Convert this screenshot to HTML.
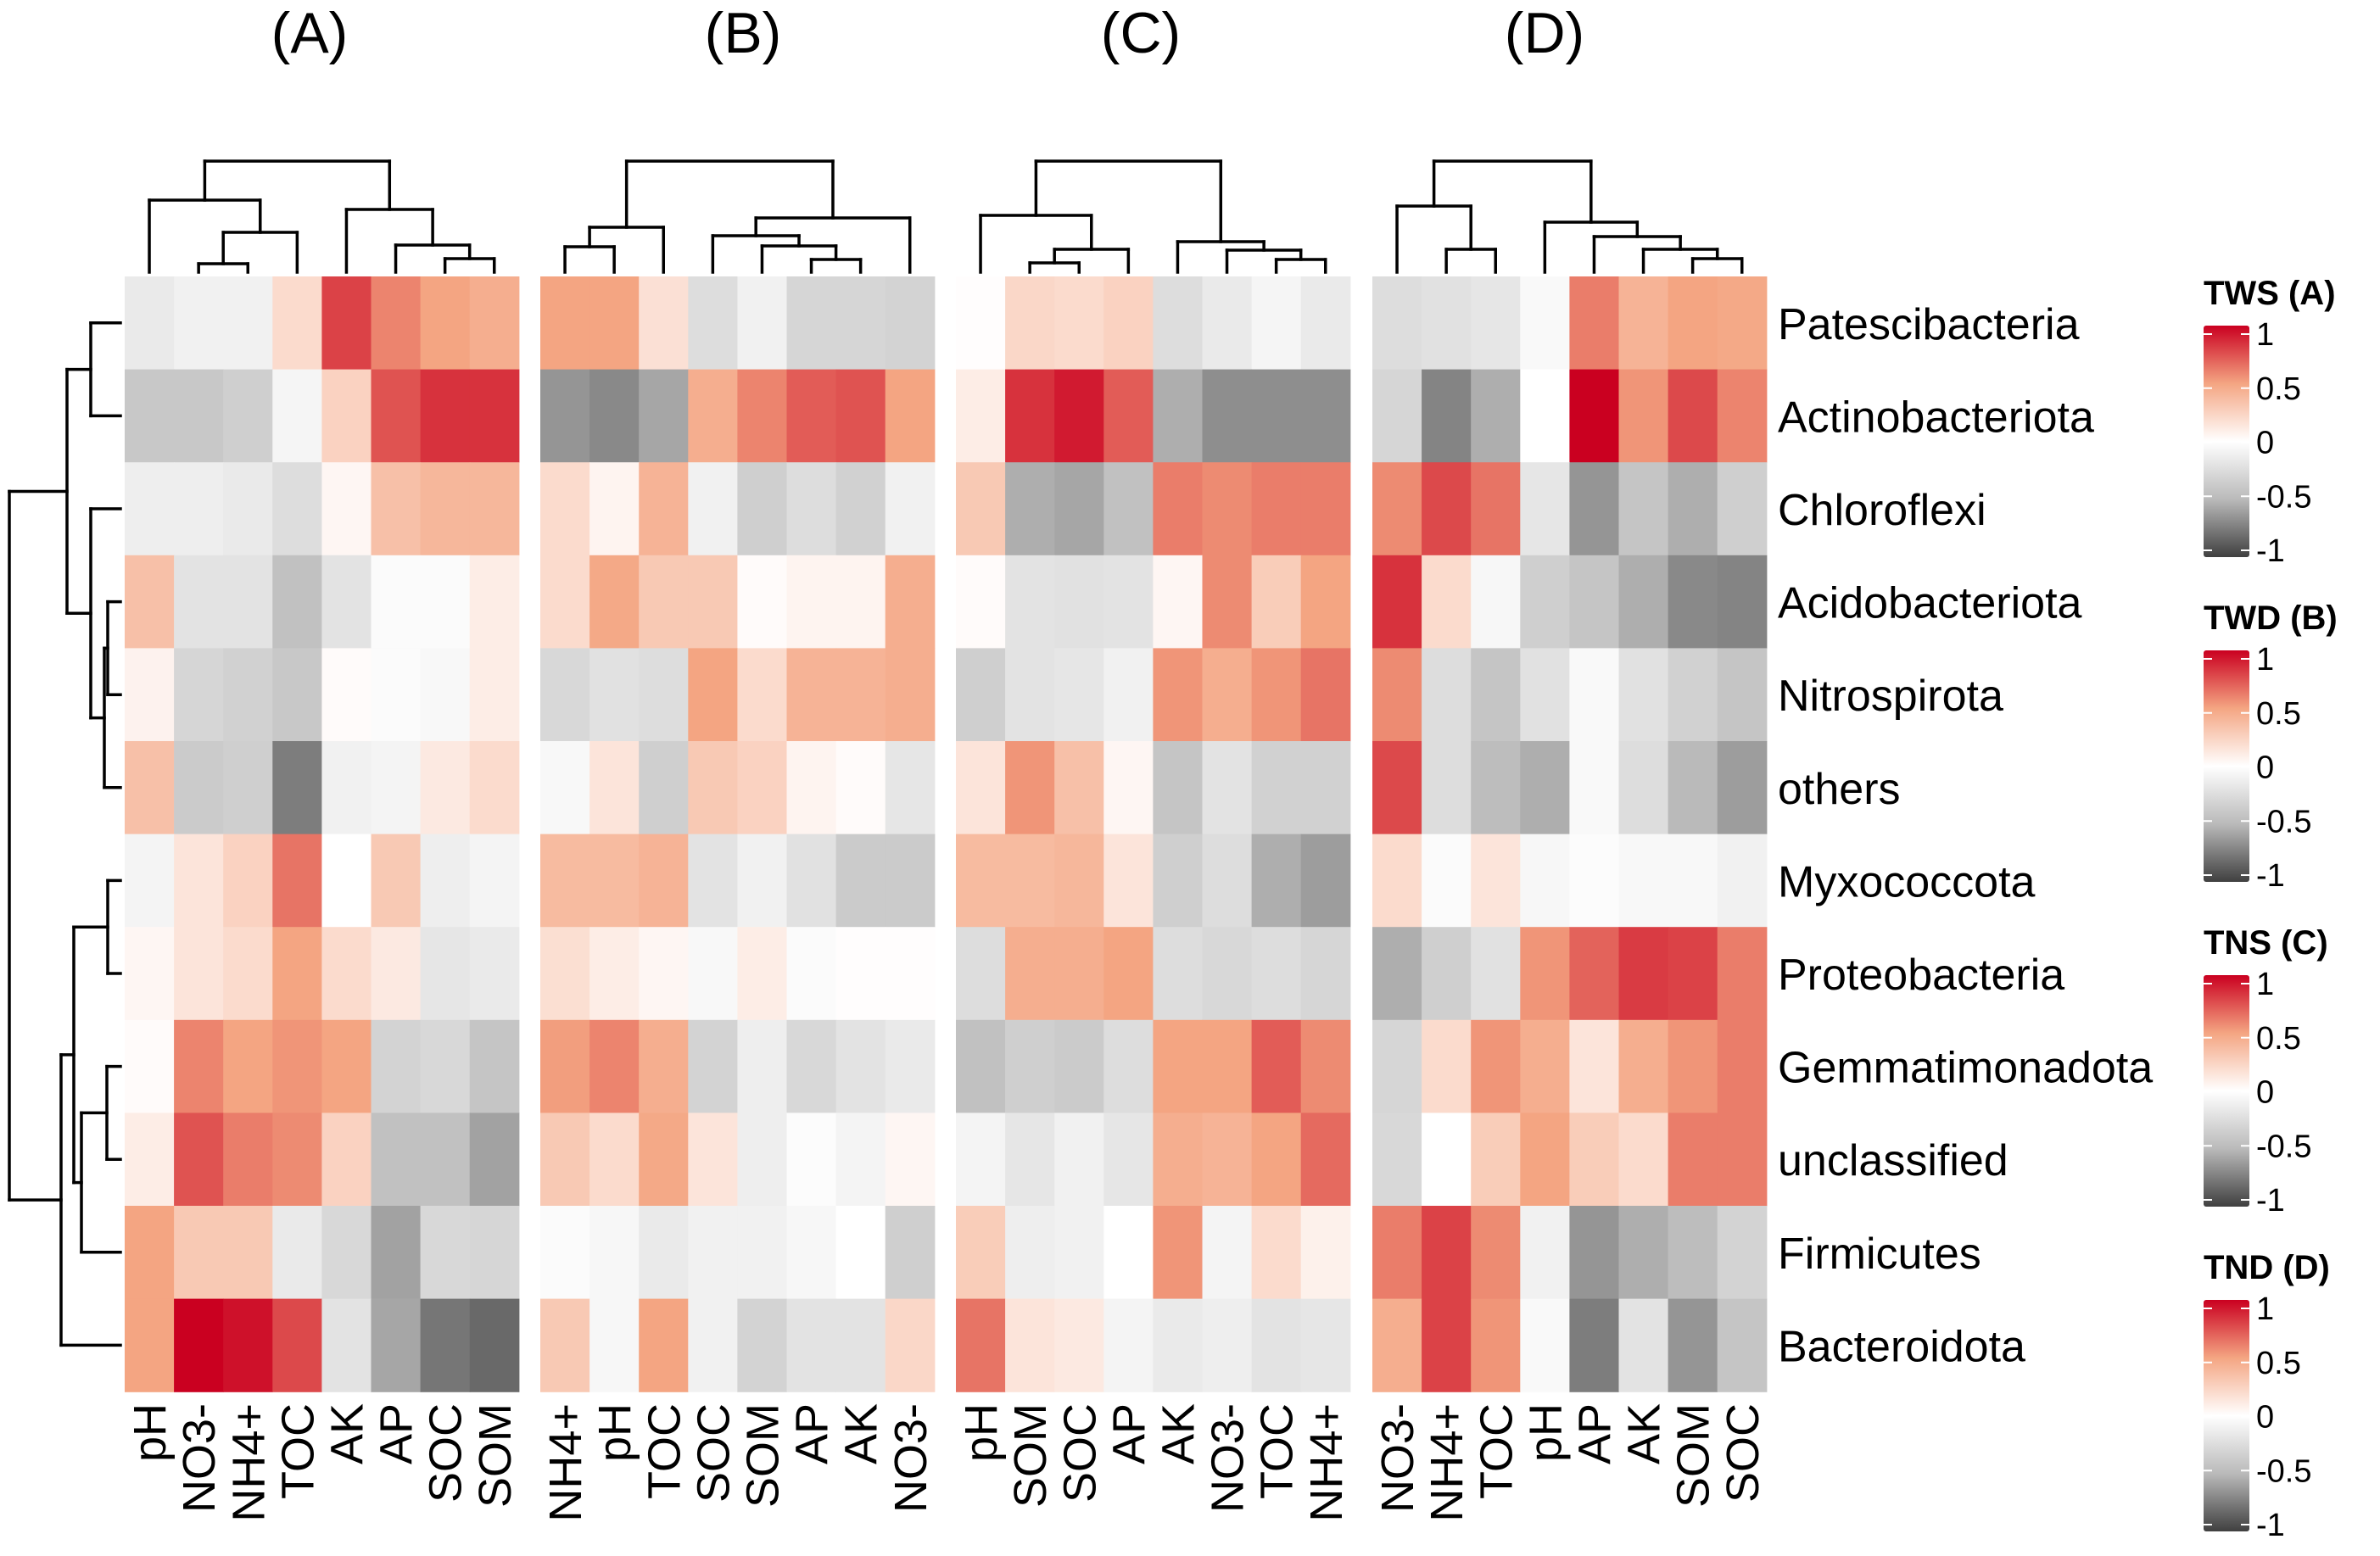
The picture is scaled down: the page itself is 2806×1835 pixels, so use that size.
<!DOCTYPE html>
<html><head><meta charset="utf-8"><style>
html,body{margin:0;padding:0;background:#fff;}
svg{display:block;font-family:"Liberation Sans",sans-serif;}
</style></head><body>
<svg id="chart" width="2806" height="1835" viewBox="0 0 2806 1835" xmlns="http://www.w3.org/2000/svg">
<defs>
<linearGradient id="grad" x1="0" y1="0" x2="0" y2="1">
<stop offset="0" stop-color="#ca0020"/><stop offset="0.25" stop-color="#f4a582"/><stop offset="0.5" stop-color="#ffffff"/><stop offset="0.75" stop-color="#bababa"/><stop offset="1" stop-color="#404040"/>
</linearGradient>
</defs>
</svg>
<script>
const rows = ["Patescibacteria","Actinobacteriota","Chloroflexi","Acidobacteriota","Nitrospirota","others","Myxococcota","Proteobacteria","Gemmatimonadota","unclassified","Firmicutes","Bacteroidota"];
const panelTitles = ["(A)","(B)","(C)","(D)"];
const legendTitles = ["TWS (A)","TWD (B)","TNS (C)","TND (D)"];
const legendTicks = [1,0.5,0,-0.5,-1];
const colsA = ["pH","NO3-","NH4+","TOC","AK","AP","SOC","SOM"];
const colsB = ["NH4+","pH","TOC","SOC","SOM","AP","AK","NO3-"];
const colsC = ["pH","SOM","SOC","AP","AK","NO3-","TOC","NH4+"];
const colsD = ["NO3-","NH4+","TOC","pH","AP","AK","SOM","SOC"];
const valsA = [
[-0.15,-0.1,-0.1,0.2,0.8,0.6,0.5,0.45],
[-0.4,-0.4,-0.35,-0.07,0.25,0.75,0.85,0.85],
[-0.12,-0.12,-0.15,-0.25,0.05,0.35,0.4,0.4],
[0.35,-0.2,-0.2,-0.45,-0.2,-0.03,-0.03,0.1],
[0.07,-0.3,-0.33,-0.4,0.02,-0.03,-0.05,0.1],
[0.35,-0.38,-0.35,-0.75,-0.1,-0.08,0.12,0.2],
[-0.08,0.15,0.25,0.65,0.0,0.3,-0.12,-0.08],
[0.05,0.15,0.2,0.5,0.2,0.12,-0.18,-0.15],
[0.02,0.6,0.5,0.55,0.5,-0.32,-0.28,-0.42],
[0.1,0.75,0.62,0.58,0.25,-0.45,-0.45,-0.6],
[0.5,0.3,0.3,-0.15,-0.28,-0.6,-0.28,-0.3],
[0.5,1.0,0.95,0.78,-0.2,-0.58,-0.78,-0.83]];
const valsB = [
[0.5,0.5,0.17,-0.25,-0.1,-0.3,-0.3,-0.32],
[-0.65,-0.7,-0.58,0.45,0.6,0.72,0.75,0.5],
[0.2,0.06,0.42,-0.1,-0.35,-0.25,-0.33,-0.1],
[0.2,0.48,0.3,0.3,0.02,0.06,0.06,0.45],
[-0.28,-0.22,-0.25,0.5,0.2,0.42,0.42,0.45],
[-0.05,0.15,-0.35,0.3,0.25,0.06,0.02,-0.18],
[0.38,0.38,0.42,-0.2,-0.1,-0.22,-0.38,-0.38],
[0.18,0.1,0.05,-0.05,0.1,-0.03,0.01,0.01],
[0.52,0.6,0.45,-0.32,-0.12,-0.28,-0.2,-0.15],
[0.3,0.2,0.48,0.15,-0.12,-0.02,-0.08,0.05],
[-0.03,-0.06,-0.15,-0.1,-0.1,-0.06,0.0,-0.35],
[0.3,-0.06,0.5,-0.1,-0.32,-0.2,-0.2,0.22]];
const valsC = [
[0.01,0.22,0.2,0.25,-0.25,-0.15,-0.07,-0.15],
[0.1,0.85,0.92,0.72,-0.55,-0.68,-0.68,-0.68],
[0.3,-0.55,-0.58,-0.45,0.62,0.58,0.62,0.62],
[0.02,-0.2,-0.22,-0.2,0.05,0.58,0.28,0.5],
[-0.35,-0.2,-0.18,-0.1,0.55,0.45,0.55,0.65],
[0.15,0.55,0.35,0.05,-0.42,-0.2,-0.33,-0.33],
[0.38,0.38,0.4,0.15,-0.35,-0.25,-0.55,-0.62],
[-0.25,0.45,0.45,0.5,-0.25,-0.28,-0.25,-0.3],
[-0.45,-0.35,-0.38,-0.25,0.5,0.5,0.72,0.58],
[-0.08,-0.18,-0.1,-0.18,0.45,0.42,0.5,0.68],
[0.28,-0.12,-0.1,0.0,0.55,-0.08,0.2,0.08],
[0.65,0.15,0.12,-0.08,-0.15,-0.12,-0.2,-0.18]];
const valsD = [
[-0.25,-0.22,-0.18,-0.04,0.62,0.42,0.5,0.48],
[-0.3,-0.72,-0.55,0.0,1.0,0.55,0.78,0.6],
[0.58,0.78,0.65,-0.18,-0.65,-0.42,-0.55,-0.35],
[0.85,0.2,-0.06,-0.35,-0.42,-0.55,-0.7,-0.72],
[0.58,-0.25,-0.42,-0.22,-0.04,-0.22,-0.33,-0.42],
[0.78,-0.25,-0.48,-0.55,-0.04,-0.25,-0.5,-0.62],
[0.2,-0.03,0.15,-0.06,-0.02,-0.05,-0.05,-0.1],
[-0.55,-0.35,-0.22,0.55,0.7,0.82,0.8,0.62],
[-0.3,0.2,0.55,0.45,0.15,0.45,0.55,0.62],
[-0.28,0.0,0.28,0.5,0.28,0.2,0.62,0.62],
[0.62,0.8,0.58,-0.1,-0.65,-0.55,-0.48,-0.32],
[0.45,0.8,0.55,-0.04,-0.75,-0.2,-0.65,-0.42]];
const dendA = [[1,2,311],[8,3,274],[0,9,236],[6,7,305],[5,11,289],[4,12,247],[10,13,190]];
const dendB = [[0,1,291],[8,2,268],[5,6,306],[4,10,290],[3,11,278],[12,7,257],[9,13,190]];
const dendC = [[1,2,310],[8,3,294],[0,9,254],[6,7,306],[5,11,295],[4,12,285],[10,13,190]];
const dendD = [[1,2,294],[0,8,243],[6,7,305],[5,10,294],[4,11,279],[3,12,262],[9,13,190]];
const dendRows = [[0,1,107],[3,4,127],[13,5,123],[2,14,107],[12,15,79],[6,7,127],[8,9,126],[18,10,96],[17,19,87],[20,11,72],[16,21,11]];

const svg = document.getElementById('chart');
const NS = "http://www.w3.org/2000/svg";
const panelX = [147,637,1127,1618], top0 = 326, cellW = 58.1, cellH = 109.6, leafY = 321;
const colSets = [colsA,colsB,colsC,colsD], valSets = [valsA,valsB,valsC,valsD], dendSets = [dendA,dendB,dendC,dendD];
const stops = [[-1,[64,64,64]],[-0.5,[186,186,186]],[0,[255,255,255]],[0.5,[244,165,130]],[1,[202,0,32]]];
function color(v){v=Math.max(-1,Math.min(1,v));for(let i=0;i<4;i++){const [a,ca]=stops[i],[b,cb]=stops[i+1];if(v<=b){const t=(v-a)/(b-a);return 'rgb('+ca.map((c,k)=>Math.round(c+(cb[k]-c)*t)).join(',')+')';}}}
function xScale(p,j){return panelX[p]+j*cellW;}
function yScale(i){return top0+i*cellH;}
function mk(tag,attrs,parent){const e=document.createElementNS(NS,tag);for(const k in attrs)e.setAttribute(k,attrs[k]);(parent||svg).appendChild(e);return e;}
function line(x1,y1,x2,y2,g){return mk('line',{x1,y1,x2,y2,stroke:'#000','stroke-width':3.5,'stroke-linecap':'square'},g);}

for(let p=0;p<4;p++){
  const g = mk('g',{});
  
  
  const vals = valSets[p], cols = colSets[p];
  for(let i=0;i<rows.length;i++)for(let j=0;j<cols.length;j++){
    const r = mk('rect',{x:xScale(p,j),y:yScale(i),width:cellW+0.6,height:cellH+0.6,fill:color(vals[i][j])},g);
    
    
  }
  for(let j=0;j<cols.length;j++){
    const cx = xScale(p,j)+cellW/2+19;
    const t = mk('text',{x:cx,y:1655,transform:'rotate(-90 '+cx+' 1655)','text-anchor':'end','font-size':54,fill:'#000'},g);
    t.textContent = cols[j];
    
    
  }
  const dg = mk('g',{},g);
  
  
  const nodes = []; for(let j=0;j<8;j++) nodes.push({x:xScale(p,j)+cellW/2,y:leafY});
  dendSets[p].forEach(m=>{const a=nodes[m[0]],b=nodes[m[1]],h=m[2];line(a.x,a.y,a.x,h,dg);line(b.x,b.y,b.x,h,dg);line(a.x,h,b.x,h,dg);nodes.push({x:(a.x+b.x)/2,y:h});});
  const tt = mk('text',{x:[365,876,1345,1821][p],y:62,'text-anchor':'middle','font-size':68,fill:'#000'});
  tt.textContent = panelTitles[p];
  
  
}
const rg = mk('g',{});


const rn = []; for(let i=0;i<12;i++) rn.push({x:142,y:yScale(i)+cellH/2});
dendRows.forEach(m=>{const a=rn[m[0]],b=rn[m[1]],h=m[2];line(a.x,a.y,h,a.y,rg);line(b.x,b.y,h,b.y,rg);line(h,a.y,h,b.y,rg);rn.push({x:h,y:(a.y+b.y)/2});});
rows.forEach((r,i)=>{
  const t = mk('text',{x:2096,y:yScale(i)+cellH/2+19,'font-size':52,fill:'#000'});
  t.textContent = r;
  
  
});
for(let k=0;k<4;k++){
  const off = k*383;
  const lg = mk('g',{});
  
  
  const t = mk('text',{x:2598,y:359+off,'font-size':40,'font-weight':'bold',fill:'#000'},lg);
  t.textContent = legendTitles[k];
  
  
  mk('rect',{x:2598,y:384+off,width:54,height:273,fill:'url(#grad)',rx:3},lg);
  legendTicks.forEach(v=>{
    const y = 394+off+(1-v)/2*255;
    mk('line',{x1:2598,y1:y,x2:2608,y2:y,stroke:'#fff','stroke-width':2},lg);
    mk('line',{x1:2642,y1:y,x2:2652,y2:y,stroke:'#fff','stroke-width':2},lg);
    const tl = mk('text',{x:2660,y:y+13,'font-size':38,fill:'#000'},lg);
    tl.textContent = String(v);
    
    
  });
}
</script>
</body></html>
